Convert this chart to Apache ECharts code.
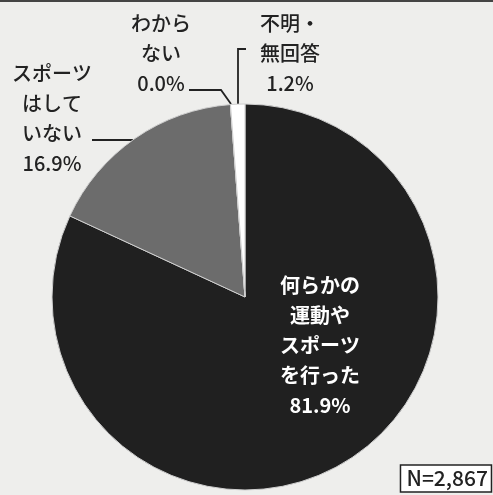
<!DOCTYPE html>
<html>
<head>
<meta charset="utf-8">
<script src="https://cdn.jsdelivr.net/npm/echarts@6/dist/echarts.min.js"></script>
<style>
  html, body { margin: 0; padding: 0; background: #eeeeec; }
  #chart { width: 493px; height: 495px; }
</style>
</head>
<body>
<div id="chart"></div>
<script>
// 運動・スポーツの実施状況
var categories = ['何らかの\n運動や\nスポーツ\nを行った', 'スポーツ\nはして\nいない', 'わから\nない', '不明・\n無回答'];
var values = [81.9, 16.9, 0.0, 1.2];
var sampleLabel = 'N=2,867';

var sliceColors = ['#202020', '#6c6c6c', '#ffffff', '#ffffff'];
// ラベル位置（中心）と引き出し線
var labelPos = [[320, 345], [52, 118], [161, 53], [290, 53]];
var linePts = [
    null,
    [[133, 140], [112, 140], [92, 140]],
    [[231, 104], [221, 90], [189, 90]],
    [[238, 104], [238, 49], [246, 49]]
];

var myChart = echarts.init(document.getElementById('chart'));
var font = '"Noto Sans CJK JP", "Noto Sans", sans-serif';

var seriesData = [];
for (var i = 0; i < categories.length; i++) {
    seriesData.push({
        name: categories[i],
        value: values[i],
        itemStyle: { color: sliceColors[i] },
        label: i == 0 ? { color: '#ffffff', fontWeight: 'bold' } : {},
        labelLine: { show: i != 0 }
    });
}

option = {
    backgroundColor: '#eeeeec',
    animation: false,
    title: {
        text: sampleLabel,
        right: 1,
        bottom: 3,
        padding: [3, 4, 3, 6],
        borderColor: '#222',
        borderWidth: 1.5,
        backgroundColor: '#ffffff',
        textStyle: { fontFamily: font, fontSize: 21, fontWeight: 500, color: '#222' }
    },
    graphic: [{
        type: 'rect',
        shape: { x: 0, y: 0, width: 493, height: 2 },
        style: { fill: '#444' }
    }],
    series: [{
        type: 'pie',
        center: [245, 297],
        radius: 193,
        startAngle: 90,
        clockwise: true,
        avoidLabelOverlap: false,
        itemStyle: { borderColor: '#cfcfcf', borderWidth: 1 },
        label: {
            show: true,
            fontFamily: font,
            fontSize: 20,
            fontWeight: 500,
            lineHeight: 30,
            color: '#222',
            align: 'center',
            formatter: function (p) {
                return p.name + '\n' + p.value.toFixed(1) + '%';
            }
        },
        labelLine: { show: true, lineStyle: { color: '#222', width: 1.8 } },
        labelLayout: function (params) {
            var k = params.dataIndex;
            var res = {
                x: labelPos[k][0],
                y: labelPos[k][1],
                align: 'center',
                verticalAlign: 'middle'
            };
            if (linePts[k]) res.labelLinePoints = linePts[k];
            return res;
        },
        data: seriesData
    }]
};
myChart.setOption(option, true);
</script>
</body>
</html>
